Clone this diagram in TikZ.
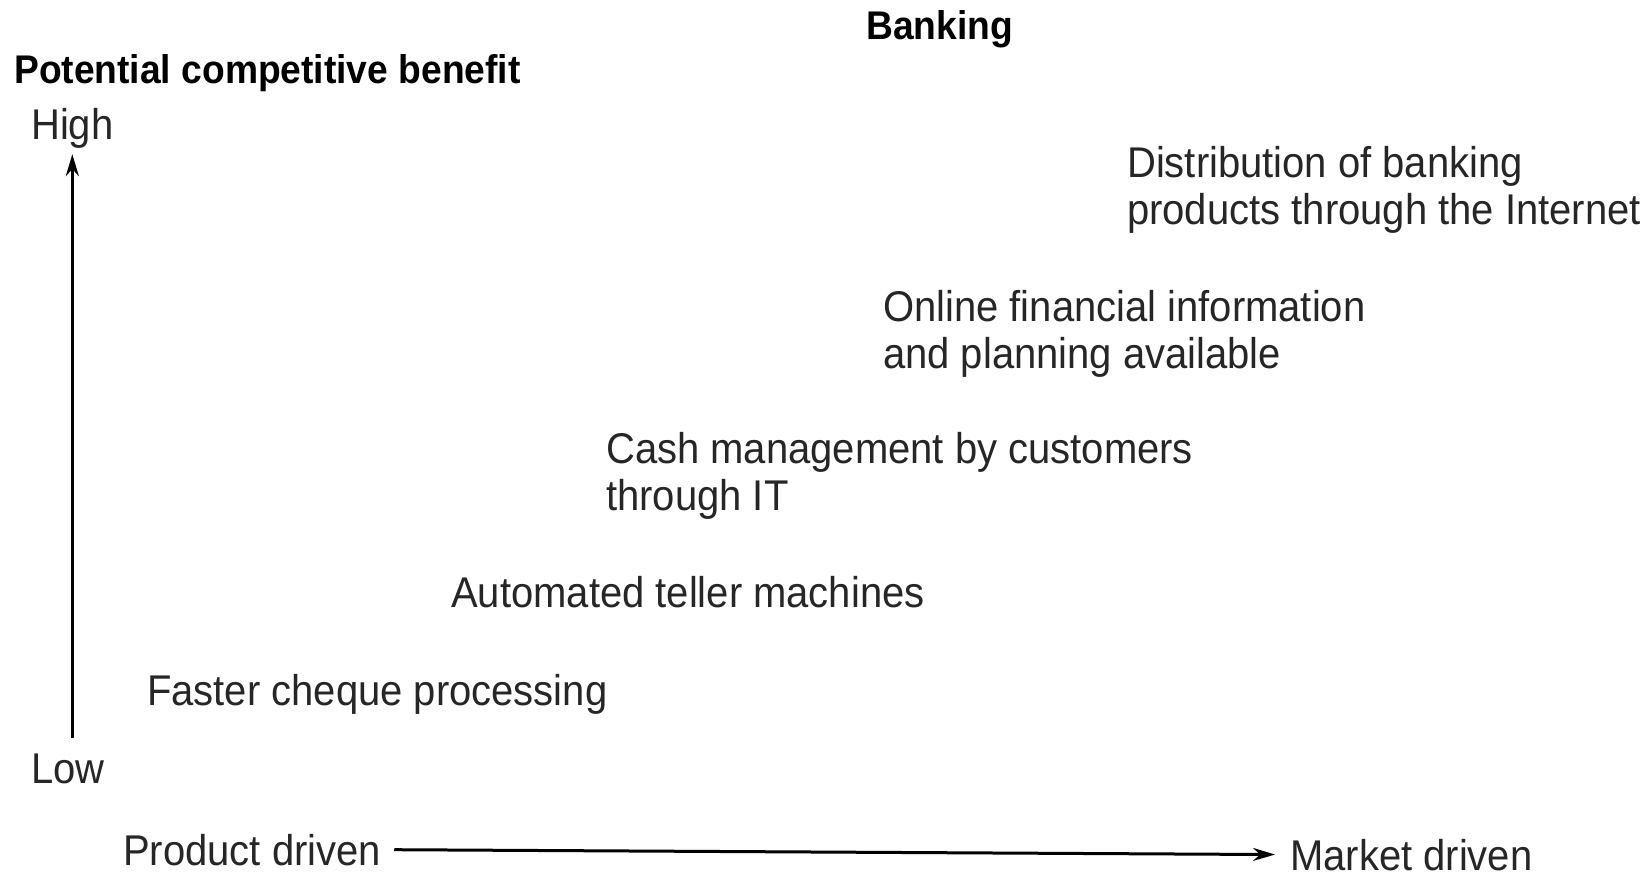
\documentclass[tikz,border=0pt]{standalone}
\usepackage{fontspec}
\setmainfont[FakeStretch=0.93]{Liberation Sans}
\usetikzlibrary{arrows.meta}
\tikzset{
  lbl/.style={inner sep=0pt, anchor=base west, align=left, font=\fontsize{43}{47}\selectfont, text=black!85},
  ttl/.style={inner sep=0pt, anchor=base west, font=\fontsize{40}{44}\bfseries\selectfont},
  axisarrow/.style={line width=3pt, -{Stealth[length=22pt,width=13pt]}}
}
\begin{document}
\begin{tikzpicture}[x=1pt,y=-1pt]
\path[use as bounding box, fill=white] (0,0) rectangle (1644,877);
\node[ttl] (bank) at (866,40) {Banking};
\node[ttl] (pcb) at (14,84) {Potential competitive benefit};
\node[lbl] (high) at (31,140) {High};
\node[lbl] (low) at (31,783) {Low};
\node[lbl] (prod) at (123,865) {Product driven};
\node[lbl] (mkt) at (1290,870) {Market driven};
\node[lbl] (dist) at (1127,225) {Distribution of banking\\products through the Internet};
\node[lbl] (online) at (883,368) {Online financial information\\and planning available};
\node[lbl] (cash) at (606,510) {Cash management by customers\\through IT};
\node[lbl] (atm) at (451,607) {Automated teller machines};
\node[lbl] (cheque) at (147,705) {Faster cheque processing};
\draw[axisarrow, shorten <=15pt, shorten >=5pt] (low.north -| high.south) -- (high.south);
\draw[axisarrow, shorten <=13pt, shorten >=15pt] (prod.east) -- (mkt.west);
\end{tikzpicture}
\end{document}
